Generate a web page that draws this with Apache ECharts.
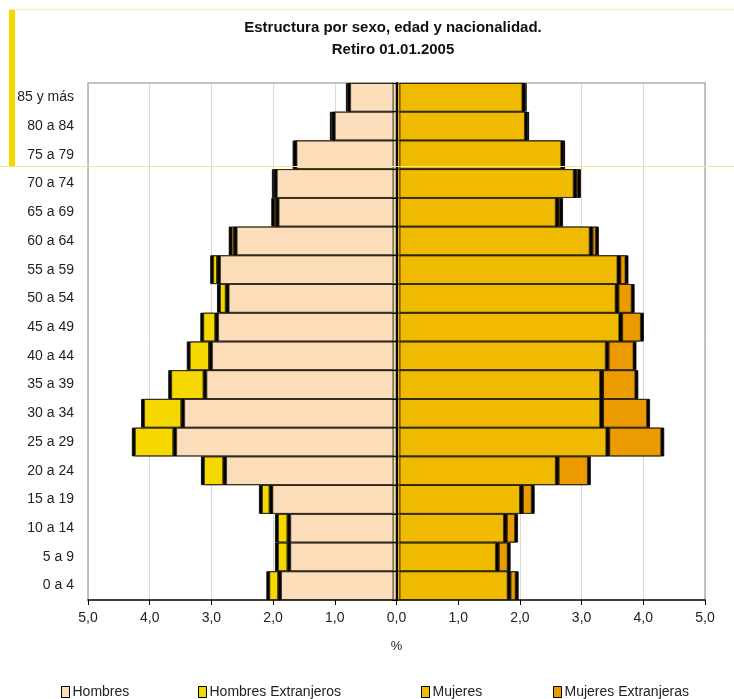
<!DOCTYPE html>
<html>
<head>
<meta charset="utf-8">
<script src="https://cdn.jsdelivr.net/npm/echarts@6/dist/echarts.min.js"></script>
<style>
  html, body { margin: 0; padding: 0; background: #fff; }
  #main { width: 734px; height: 699px; }
</style>
</head>
<body>
<div id="main"></div>
<script>
// grupos de edad (de abajo a arriba)
let edades = ['0 a 4', '5 a 9', '10 a 14', '15 a 19', '20 a 24', '25 a 29', '30 a 34', '35 a 39', '40 a 44',
  '45 a 49', '50 a 54', '55 a 59', '60 a 64', '65 a 69', '70 a 74', '75 a 79', '80 a 84', '85 y más'];
// % sobre el total
let hombres = [1.87, 1.72, 1.72, 2.01, 2.76, 3.57, 3.44, 3.08, 2.99, 2.89, 2.72, 2.86, 2.59, 1.91, 1.94, 1.62, 1.00, 0.75];
let hombresExt = [0.19, 0.20, 0.20, 0.17, 0.36, 0.67, 0.65, 0.57, 0.36, 0.24, 0.14, 0.11, 0.08, 0.07, 0.03, 0.01, 0.03, 0.02];
let mujeres = [1.80, 1.61, 1.74, 2.00, 2.58, 3.40, 3.30, 3.30, 3.39, 3.61, 3.55, 3.58, 3.13, 2.58, 2.87, 2.67, 2.08, 2.04];
let mujeresExt = [0.13, 0.19, 0.18, 0.19, 0.52, 0.89, 0.76, 0.57, 0.45, 0.35, 0.26, 0.13, 0.10, 0.07, 0.07, 0.01, 0.02, 0.02];
let xTicks = [-5, 5, 1];

let myChart = echarts.init(document.getElementById('main'));

function neg(arr) {
  return arr.map(v => -v);
}

function barSerie(name, data, color, z, lado) {
  return {
    name: name,
    type: 'bar',
    stack: 'total',
    data: data,
    z: z,
    barCategoryGap: 0,
    itemStyle: {
      color: color,
      borderColor: '#3a3020',
      borderWidth: 0.8,
      shadowColor: '#000',
      shadowBlur: 0,
      shadowOffsetX: 3 * lado
    },
    emphasis: { disabled: true }
  };
}

let leyenda = [['Hombres', 56], ['Hombres Extranjeros', 193], ['Mujeres', 416], ['Mujeres Extranjeras', 548]];
let marco = { show: true, onZero: false, lineStyle: { color: '#b0b0b0', width: 1.5 } };

let option = {
  animation: false,
  title: {
    text: 'Estructura por sexo, edad y nacionalidad.\nRetiro 01.01.2005',
    left: 388,
    textAlign: 'center',
    top: 12,
    textStyle: {
      fontFamily: 'Liberation Sans, Arial',
      fontSize: 15,
      fontWeight: 'bold',
      color: '#111',
      lineHeight: 22
    }
  },
  legend: leyenda.map(l => ({
    data: [l[0]],
    left: l[1],
    top: 680,
    icon: 'rect',
    itemWidth: 8,
    itemHeight: 11,
    itemGap: 4,
    itemStyle: { borderColor: '#000', borderWidth: 1, shadowColor: 'transparent' },
    textStyle: { fontFamily: 'Liberation Sans, Arial', fontSize: 14, color: '#222', padding: [0, 0, 0, -2] }
  })),
  grid: {
    left: 88,
    right: 29,
    top: 83,
    bottom: 99
  },
  xAxis: [{
    type: 'value',
    min: xTicks[0],
    max: xTicks[1],
    interval: xTicks[2],
    name: '%',
    nameLocation: 'middle',
    nameGap: 40,
    nameTextStyle: { fontFamily: 'Liberation Sans, Arial', fontSize: 13, color: '#222' },
    axisLine: { show: true, onZero: false, lineStyle: { color: '#000', width: 1.5 } },
    axisTick: { show: true, length: 5, lineStyle: { color: '#000' } },
    axisLabel: {
      margin: 11,
      fontFamily: 'Liberation Sans, Arial',
      fontSize: 14,
      color: '#222',
      formatter: v => Math.abs(v).toFixed(1).replace('.', ',')
    },
    splitLine: { show: true, lineStyle: { color: '#d9d9d9', width: 1 } }
  }, {
    // borde superior
    type: 'value',
    position: 'top',
    min: xTicks[0],
    max: xTicks[1],
    axisLine: marco,
    axisTick: { show: false },
    axisLabel: { show: false },
    splitLine: { show: false }
  }],
  yAxis: [{
    type: 'category',
    data: edades,
    axisLine: marco,
    axisTick: { show: false },
    axisLabel: {
      margin: 14,
      fontFamily: 'Liberation Sans, Arial',
      fontSize: 14,
      color: '#222'
    }
  }, {
    // eje vertical en el 0
    type: 'category',
    data: edades,
    position: 'left',
    offset: -308.5,
    axisLine: { show: true, onZero: false, lineStyle: { color: '#000', width: 2 } },
    axisTick: { show: true, length: 4, lineStyle: { color: '#000' } },
    axisLabel: { show: false },
    z: 10
  }, {
    // borde derecho
    type: 'category',
    data: edades,
    position: 'right',
    axisLine: marco,
    axisTick: { show: false },
    axisLabel: { show: false }
  }],
  series: [
    barSerie('Hombres', neg(hombres), '#fbddba', 4, -1),
    barSerie('Hombres Extranjeros', neg(hombresExt), '#f5d800', 3, -1),
    barSerie('Mujeres', mujeres, '#f0ba00', 4, 1),
    barSerie('Mujeres Extranjeras', mujeresExt, '#eb9b00', 3, 1)
  ],
  graphic: [
    { type: 'rect', z: 100, shape: { x: 9, y: 9, width: 6, height: 157 }, style: { fill: '#f5d800' } },
    { type: 'line', z: 100, shape: { x1: 9, y1: 9.5, x2: 734, y2: 9.5 }, style: { stroke: '#faeeb0', lineWidth: 1 } },
    { type: 'line', z: 100, shape: { x1: 0, y1: 166.5, x2: 734, y2: 166.5 }, style: { stroke: '#f8e68a', lineWidth: 1 } }
  ]
};

myChart.setOption(option);
</script>
</body>
</html>
